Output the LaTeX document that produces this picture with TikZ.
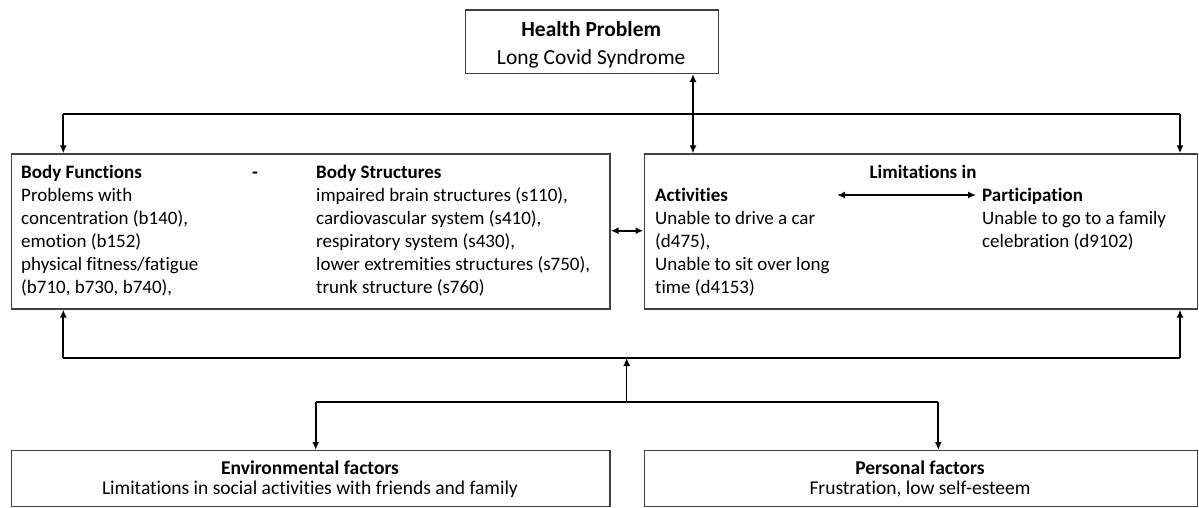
\documentclass[tikz,border=0pt]{standalone}
\usepackage{fontspec}
\setmainfont{Carlito}[Ligatures={NoCommon}]
\usetikzlibrary{arrows.meta}
\tikzset{
  box/.style={draw=black!75, line width=1.3pt, fill=none, inner sep=0pt, anchor=north west},
  conn/.style={draw=black, line width=2pt},
  thinconn/.style={draw=black, line width=1.2pt},
  tip/.style={-{Latex[length=8pt,width=7pt]}},
  dtip/.style={{Latex[length=8pt,width=7pt]}-{Latex[length=8pt,width=7pt]}},
  tx/.style={inner sep=0pt, anchor=base west, font=\fontsize{19}{23}\selectfont},
  tb/.style={tx, font=\fontsize{19}{23}\selectfont\bfseries},
  big/.style={inner sep=0pt, anchor=base, font=\fontsize{21.5}{26}\selectfont},
  bigb/.style={big, font=\fontsize{21.5}{26}\selectfont\bfseries},
  mid/.style={inner sep=0pt, anchor=base, font=\fontsize{19.5}{22}\selectfont},
  midb/.style={mid, font=\fontsize{19.5}{22}\selectfont\bfseries},
}
\begin{document}
\begin{tikzpicture}[x=1pt,y=-1pt]
\useasboundingbox (0,0) rectangle (1199,507);
% boxes
\node[box, minimum width=253pt, minimum height=63.4pt] (hp) at (464.7,9.3) {};
\node[box, minimum width=598.3pt, minimum height=155pt] (bb) at (11,153.3) {};
\node[box, minimum width=553pt, minimum height=155pt] (rb) at (643.5,153.3) {};
\node[box, minimum width=598.3pt, minimum height=56pt] (env) at (11,450) {};
\node[box, minimum width=553pt, minimum height=56pt] (pers) at (643.5,450) {};
% health problem text
\node[bigb] (hpt) at (591.2,36) {Health Problem};
\node[big] (hps) at (591.2,64) {Long Covid Syndrome};
% body functions
\node[tb] (bf) at (21,178) {Body Functions};
\node[tx] (bf1) at (21,201) {Problems with};
\node[tx] (bf2) at (21,224) {concentration (b140),};
\node[tx] (bf3) at (21,247) {emotion (b152)};
\node[tx] (bf4) at (21,270) {physical fitness/fatigue};
\node[tx] (bf5) at (21,293) {(b710, b730, b740),};
\node[tb] (dash) at (252,178) {-};
\node[tb] (bs) at (316,178) {Body Structures};
\node[tx] (bs1) at (316,201) {impaired brain structures (s110),};
\node[tx] (bs2) at (316,224) {cardiovascular system (s410),};
\node[tx] (bs3) at (316,247) {respiratory system (s430),};
\node[tx] (bs4) at (316,270) {lower extremities structures (s750),};
\node[tx] (bs5) at (316,293) {trunk structure (s760)};
% activities / participation
\node[tb, anchor=base] (lim) at (923,178) {Limitations in};
\node[tb] (ac) at (655,201) {Activities};
\node[tx] (ac1) at (655,224) {Unable to drive a car};
\node[tx] (ac2) at (655,247) {(d475),};
\node[tx] (ac3) at (655,270) {Unable to sit over long};
\node[tx] (ac4) at (655,293) {time (d4153)};
\node[tb] (pa) at (982,201) {Participation};
\node[tx] (pa1) at (982,224) {Unable to go to a family};
\node[tx] (pa2) at (982,247) {celebration (d9102)};
% bottom boxes
\node[midb] (envt) at (310,474) {Environmental factors};
\node[mid] (envs) at (310,494) {Limitations in social activities with friends and family};
\node[midb] (perst) at (920,474) {Personal factors};
\node[mid] (perss) at (920,494) {Frustration, low self-esteem};
% coordinates
\coordinate (j1) at (693,113.5);
\coordinate (tl) at (63.3,113.5);
\coordinate (tr) at (1180,113.5);
\coordinate (m) at (626,230.7);
\coordinate (ap1) at (837,195);
\coordinate (ap2) at (976,195);
\coordinate (bl) at (63.3,358);
\coordinate (br) at (1180,358);
\coordinate (mu) at (626.7,402);
\coordinate (ll) at (315.7,402);
\coordinate (lr) at (938.3,402);
% connectors
\draw[conn, dtip] (hp.south -| j1) -- (rb.north -| j1);
\draw[conn] (tl) -- (tr);
\draw[conn, tip] (tl) -- (bb.north -| tl);
\draw[conn, tip] (tr) -- (rb.north -| tr);
\draw[conn, dtip] (bb.east |- m) -- (rb.west |- m);
\draw[conn, dtip] (ap1) -- (ap2);
\draw[conn] (bl) -- (br);
\draw[conn, tip] (bl) -- (bb.south -| bl);
\draw[conn, tip] (br) -- (rb.south -| br);
\draw[thinconn, tip] (mu) -- (mu |- bl);
\draw[conn] (ll) -- (lr);
\draw[conn, tip] (ll) -- (env.north -| ll);
\draw[conn, tip] (lr) -- (pers.north -| lr);
\end{tikzpicture}
\end{document}
